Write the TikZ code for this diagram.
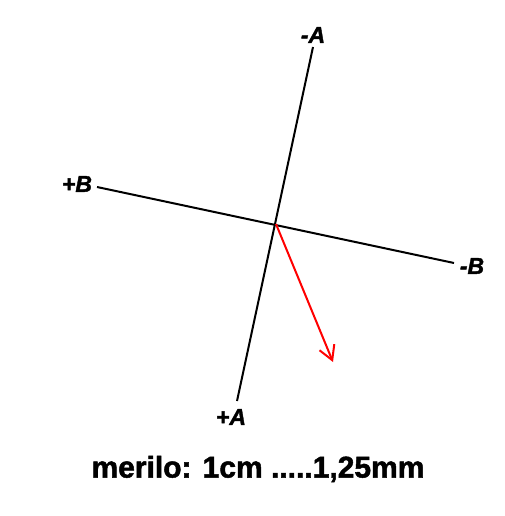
\documentclass[tikz,border=0pt]{standalone}
\usepackage{fontspec}
\setmainfont{Liberation Sans}
\newfontfamily\heavyfont[FakeBold=1.6]{Liberation Sans Bold}
\newfontfamily\heavyitfont[FakeBold=1.6]{Liberation Sans Bold Italic}
\usetikzlibrary{arrows.meta}
\begin{document}
\begin{tikzpicture}[x=1pt,y=-1pt,
  axis/.style={line width=2pt,black},
  vec/.style={line width=2pt,red,-{Straight Barb[length=14pt,width=16pt,line width=2pt]}},
  lbl/.style={font=\fontsize{23}{23}\heavyitfont,inner sep=0pt}]
\useasboundingbox (0,0) rectangle (505,516);
\coordinate (ta) at (313,47);
\coordinate (ba) at (237,401);
\coordinate (lb) at (97,187);
\coordinate (rb) at (454,263);
\coordinate (o) at (276,224);
\coordinate (tip) at (333,362);
\draw[axis] (ta) -- (ba);
\draw[axis] (lb) -- (rb);
\draw[vec] (o) -- (tip);
\node[lbl] (mA) at (313,35) {-A};
\node[lbl] (pB) at (77,184) {+B};
\node[lbl] (mB) at (472,266) {-B};
\node[lbl] (pA) at (231,417) {+A};
\node[font=\fontsize{30}{30}\heavyfont,inner sep=0pt] (scale) at (258,469) {merilo: 1cm .....1,25mm};
\end{tikzpicture}
\end{document}
